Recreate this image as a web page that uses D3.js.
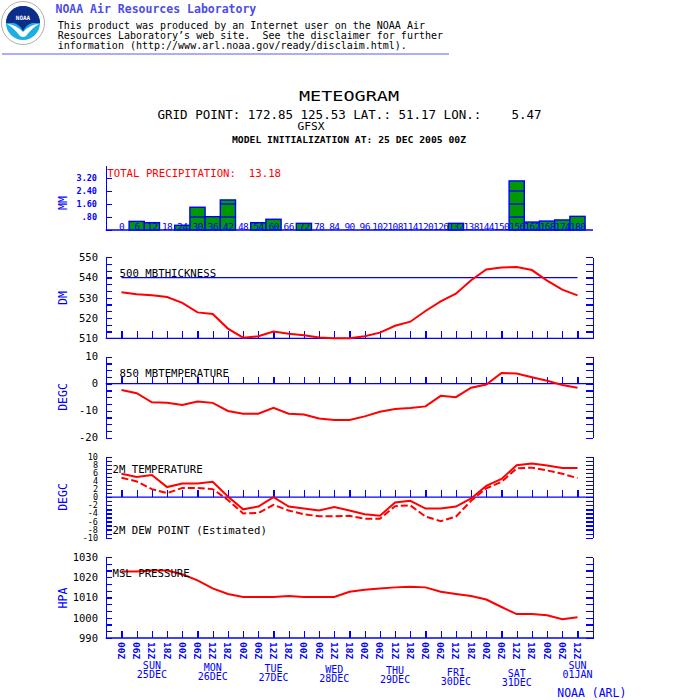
<!DOCTYPE html>
<html>
<head>
<meta charset="utf-8">
<script src="https://cdn.jsdelivr.net/npm/d3@7/dist/d3.min.js"></script>
<style>
  body { margin: 0; background: #fff; }
  svg { display: block; }
  text { font-family: "DejaVu Sans Mono", monospace; }
</style>
</head>
<body>
<svg id="chart" width="700" height="700"></svg>
<script>
// ---------- data ----------
var hours = [0, 6, 12, 18, 24, 30, 36, 42, 48, 54, 60, 66, 72, 78, 84, 90,
             96, 102, 108, 114, 120, 126, 132, 138, 144, 150, 156, 162, 168, 174, 180];
var hourLabels = ["00Z","06Z","12Z","18Z","00Z","06Z","12Z","18Z","00Z","06Z","12Z","18Z",
                  "00Z","06Z","12Z","18Z","00Z","06Z","12Z","18Z","00Z","06Z","12Z","18Z",
                  "00Z","06Z","12Z","18Z","00Z","06Z","12Z"];
var dayNames = ["SUN", "MON", "TUE", "WED", "THU", "FRI", "SAT", "SUN"];
var dayDates = ["25DEC", "26DEC", "27DEC", "28DEC", "29DEC", "30DEC", "31DEC", "01JAN"];
var dayHours = [12, 36, 60, 84, 108, 132, 156, 180];

// 6-hourly precipitation (mm)
var precip = [0, 0.53, 0.45, 0, 0.29, 1.40, 0.82, 1.85, 0, 0.45, 0.66, 0, 0.41, 0, 0, 0,
              0, 0, 0, 0, 0, 0, 0.41, 0, 0, 0, 3.02, 0.49, 0.55, 0.62, 0.84];
var precipTicks = [0.8, 1.6, 2.4, 3.2];
var precipTickLabels = [".80", "1.60", "2.40", "3.20"];

// 500 mb thickness (dm)
var thickness = [532.7, 531.8, 531.2, 530.4, 527.5, 522.8, 522.0, 514.8, 510.3, 511.0, 513.3,
                 512.3, 511.5, 510.4, 510.0, 510.0, 511.0, 512.8, 516.2, 518.2, 523.5, 528.2,
                 532.0, 538.7, 544.0, 545.0, 545.2, 543.7, 538.5, 534.0, 531.2];
var thicknessTicks = [550, 540, 530, 520, 510];

// 850 mb temperature (C)
var t850 = [-2.3, -3.5, -6.9, -7.1, -7.9, -6.6, -7.1, -10.1, -11.1, -11.1, -8.9, -11.1, -11.4,
            -12.9, -13.4, -13.4, -12.1, -10.4, -9.4, -9.0, -8.4, -4.5, -5.0, -1.5, -0.3,
            4.0, 3.8, 2.4, 1.1, -0.5, -1.5];
var t850Ticks = [10, 0, -10, -20];

// 2 m temperature and dew point (C)
var t2m = [5.8, 5.0, 5.5, 2.5, 3.4, 3.4, 3.8, 0.2, -3.0, -2.3, 0.0, -2.3, -2.8, -3.3, -2.4,
           -3.3, -4.2, -4.6, -1.3, -0.9, -2.8, -2.8, -2.3, -0.3, 2.8, 4.5, 7.9, 8.3, 7.8, 7.2, 7.2];
var td2m = [4.8, 3.9, 2.0, 1.0, 2.3, 2.3, 2.0, -0.7, -4.0, -3.9, -1.9, -3.3, -4.2, -4.7, -4.7,
            -4.6, -5.3, -5.3, -2.2, -2.0, -4.8, -5.9, -4.8, -0.9, 2.2, 3.8, 7.1, 7.3, 6.6, 5.8, 4.7];
var t2mTicks = [10, 8, 6, 4, 2, 0, -2, -4, -6, -8, -10];

// mean sea level pressure (hPa)
var mslp = [1022.8, 1022.8, 1023.3, 1023.3, 1021.5, 1018.5, 1014.5, 1011.7, 1010.3, 1010.3,
            1010.3, 1010.8, 1010.3, 1010.3, 1010.3, 1012.8, 1013.8, 1014.5, 1015.0, 1015.3,
            1015.0, 1012.8, 1011.7, 1010.7, 1009.0, 1005.3, 1001.8, 1001.8, 1001.2, 999.3, 1000.3];
var mslpTicks = [1030, 1020, 1010, 1000, 990];

// ---------- setup ----------
var BLUE = "#0000ff", RED = "#ff0000", GREEN = "#009900";
var L = 105.7, R = 593;
var svg = d3.select("#chart");
var x = d3.scaleLinear().domain([0, 180]).range([121.5, 577.5]);

// ---------- header ----------
var logo = svg.append("g").attr("transform", "translate(23,23)");
logo.append("circle").attr("r", 21.5).attr("fill", "#fff").attr("stroke", "#9a9a9a").attr("stroke-width", 0.8);
logo.append("circle").attr("r", 17).attr("fill", "#1eaee6");
logo.append("path")
    .attr("d", "M-17,0 A17,17 0 0 1 17,0 L9,0 Q3,2 0,8 Q-3,2 -9,0 Z")
    .attr("fill", "#0d2d8a");
logo.append("path")
    .attr("d", "M-16,1 Q-8,1 0,9 Q8,1 16,1 Q9,5 3,13 Q0,15 -3,13 Q-9,5 -16,1 Z")
    .attr("fill", "#fff");
logo.append("text").attr("y", -3).attr("text-anchor", "middle")
    .attr("font-size", 6).attr("font-weight", "bold").attr("fill", "#fff").text("NOAA");

svg.append("text").attr("x", 55.5).attr("y", 12.5)
    .attr("font-size", 11.5).attr("font-weight", "bold").attr("fill", "#4d4de8")
    .text("NOAA Air Resources Laboratory");

var disclaimer = [
  "This product was produced by an Internet user on the NOAA Air",
  "Resources Laboratory\u2019s web site.  See the disclaimer for further",
  "information (http://www.arl.noaa.gov/ready/disclaim.html)."
];
svg.selectAll(".disc").data(disclaimer).enter().append("text")
    .attr("class", "disc")
    .attr("x", 57.7).attr("y", function(d, i) { return 29.3 + i * 10; })
    .attr("font-size", 10).attr("fill", "#000")
    .style("white-space", "pre")
    .text(function(d) { return d; });

svg.append("line").attr("x1", 2).attr("x2", 449).attr("y1", 54).attr("y2", 54)
    .attr("stroke", "#5a5aff").attr("stroke-width", 1);

svg.append("text").attr("x", 349).attr("y", 101).attr("text-anchor", "middle")
    .attr("font-size", 14).attr("textLength", 100).attr("lengthAdjust", "spacingAndGlyphs")
    .text("METEOGRAM");
svg.append("text").attr("x", 349.5).attr("y", 118.5).attr("text-anchor", "middle")
    .attr("font-size", 11.5).attr("textLength", 384).attr("lengthAdjust", "spacingAndGlyphs")
    .style("white-space", "pre")
    .text("GRID POINT: 172.85 125.53 LAT.: 51.17 LON.:    5.47");
svg.append("text").attr("x", 311).attr("y", 129.5).attr("text-anchor", "middle")
    .attr("font-size", 10).attr("textLength", 27).attr("lengthAdjust", "spacingAndGlyphs")
    .text("GFSX");
svg.append("text").attr("x", 349).attr("y", 142.5).attr("text-anchor", "middle")
    .attr("font-size", 9.5).attr("font-weight", "bold")
    .attr("textLength", 234).attr("lengthAdjust", "spacingAndGlyphs")
    .text("MODEL INITIALIZATION AT: 25 DEC 2005 00Z");

// ---------- helpers ----------
function unitLabel(txt, cy) {
  svg.append("text")
      .attr("transform", "translate(67," + cy + ") rotate(-90)")
      .attr("text-anchor", "middle")
      .attr("font-size", 11.5).attr("fill", BLUE)
      .text(txt);
}

function sideTicks(y, n) {
  var d = y.domain(), vals = d3.range(n + 1).map(function(i) { return d[0] + i * (d[1] - d[0]) / n; });
  svg.append("g").attr("class", "ax").attr("transform", "translate(" + L + ",0)")
      .call(d3.axisRight(y).tickValues(vals).tickSize(6.7).tickSizeOuter(0).tickFormat(""));
  svg.append("g").attr("class", "ax").attr("transform", "translate(" + R + ",0)")
      .call(d3.axisLeft(y).tickValues(vals).tickSize(6.7).tickSizeOuter(0).tickFormat(""));
}

function valueLabels(y, vals, size) {
  svg.append("g").attr("class", "lab")
      .selectAll("text").data(vals).enter().append("text")
      .attr("x", 98).attr("y", function(d) { return y(d); })
      .attr("dy", "0.36em").attr("text-anchor", "end")
      .attr("font-size", size).attr("fill", "#000")
      .text(function(d) { return d; });
}

function baseLine(yPos) {
  svg.append("line").attr("x1", L).attr("x2", R).attr("y1", yPos).attr("y2", yPos)
      .attr("stroke", BLUE).attr("stroke-width", 1.3);
  var g = svg.append("g").attr("class", "ax").attr("transform", "translate(0," + yPos + ")")
      .call(d3.axisTop(x).tickValues(hours).tickSize(7).tickFormat(""));
  g.select(".domain").remove();
}

function title(txt, tx, ty) {
  svg.append("text").attr("x", tx).attr("y", ty)
      .attr("font-size", 10.7).attr("fill", "#000")
      .style("white-space", "pre").text(txt);
}

function series(y, vals, dash) {
  var line = d3.line().x(function(d, i) { return x(hours[i]); }).y(function(d) { return y(d); });
  svg.append("path").datum(vals).attr("d", line)
      .attr("fill", "none").attr("stroke", RED).attr("stroke-width", 2)
      .attr("stroke-dasharray", dash || null);
}

// ---------- panel 1: precipitation ----------
var yP = d3.scaleLinear().domain([0, 4]).range([230, 165]);
svg.append("g").attr("class", "ax").attr("transform", "translate(" + L + ",0)")
    .call(d3.axisRight(yP).tickValues([0].concat(precipTicks)).tickSize(6.7).tickSizeOuter(0).tickFormat(""));
svg.append("line").attr("x1", L).attr("x2", R).attr("y1", yP(0)).attr("y2", yP(0))
    .attr("stroke", BLUE).attr("stroke-width", 1.3);
svg.append("g").selectAll("text").data(precipTicks).enter().append("text")
    .attr("x", 97).attr("y", function(d) { return yP(d); }).attr("dy", "0.36em")
    .attr("text-anchor", "end").attr("font-size", 8.5).attr("font-weight", "bold")
    .attr("fill", BLUE).text(function(d, i) { return precipTickLabels[i]; });
unitLabel("MM", 203);

var barW = x(6) - x(0);
var bars = svg.append("g");
hours.forEach(function(h, i) {
  var v = precip[i];
  if (v <= 0) return;
  bars.append("rect")
      .attr("x", x(h) - barW / 2).attr("width", barW)
      .attr("y", yP(v)).attr("height", yP(0) - yP(v))
      .attr("fill", GREEN).attr("stroke", BLUE).attr("stroke-width", 1.4);
  precipTicks.filter(function(t) { return t < v - 0.05; }).forEach(function(t) {
    bars.append("line").attr("x1", x(h) - barW / 2).attr("x2", x(h) + barW / 2)
        .attr("y1", yP(t)).attr("y2", yP(t)).attr("stroke", BLUE).attr("stroke-width", 1.4);
  });
});
svg.append("g").selectAll("text").data(hours).enter().append("text")
    .attr("x", function(d) { return x(d); }).attr("y", 229.5)
    .attr("text-anchor", "middle").attr("font-size", 9.5).attr("fill", BLUE)
    .attr("letter-spacing", -0.6)
    .text(function(d) { return d; });
svg.append("text").attr("x", 107.3).attr("y", 177.3)
    .attr("font-size", 10.7).attr("fill", RED).style("white-space", "pre")
    .text("TOTAL PRECIPITATION:  13.18");

// ---------- panel 2: 500 mb thickness ----------
var yT = d3.scaleLinear().domain([510, 550]).range([338.3, 257.3]);
sideTicks(yT, 12);
valueLabels(yT, thicknessTicks, 10.5);
baseLine(yT(510));
svg.append("line").attr("x1", x(0)).attr("x2", x(180)).attr("y1", yT(540)).attr("y2", yT(540))
    .attr("stroke", BLUE).attr("stroke-width", 1.3);
series(yT, thickness);
title("500 MBTHICKNESS", 119.6, 276.8);
unitLabel("DM", 298);

// ---------- panel 3: 850 mb temperature ----------
var y8 = d3.scaleLinear().domain([-20, 10]).range([437.7, 356.7]);
sideTicks(y8, 12);
valueLabels(y8, t850Ticks, 10.5);
baseLine(y8(0));
series(y8, t850);
title("850 MBTEMPERATURE", 119.6, 377);
unitLabel("DEGC", 397);

// ---------- panel 4: 2 m temperature / dew point ----------
var y2 = d3.scaleLinear().domain([-10, 10]).range([537.7, 456.7]);
sideTicks(y2, 20);
valueLabels(y2, t2mTicks, 8.5);
baseLine(y2(0));
series(y2, td2m, "7,3");
series(y2, t2m);
title("2M TEMPERATURE", 112.5, 473.3);
title("2M DEW POINT (Estimated)", 112.5, 534);
unitLabel("DEGC", 497);

// ---------- panel 5: MSL pressure ----------
var yM = d3.scaleLinear().domain([990, 1030]).range([638, 557]);
sideTicks(yM, 12);
valueLabels(yM, mslpTicks, 10.5);
baseLine(yM(990));
series(yM, mslp);
title("MSL PRESSURE", 112.5, 576.7);
unitLabel("HPA", 598);

// ---------- time axis labels ----------
svg.append("g").selectAll("text").data(hours).enter().append("text")
    .attr("transform", function(d) { return "translate(" + x(d) + ",642) rotate(90)"; })
    .attr("dy", "0.36em")
    .attr("font-size", 9.5).attr("font-weight", "bold").attr("fill", BLUE)
    .text(function(d, i) { return hourLabels[i]; });

var days = svg.append("g").selectAll("g").data(dayHours).enter().append("g")
    .attr("transform", function(d, i) { return "translate(" + x(d) + "," + (669.3 + (i % 7) * 1.25) + ")"; });
days.append("text").attr("text-anchor", "middle").attr("font-size", 10).attr("fill", BLUE)
    .text(function(d, i) { return dayNames[i]; });
days.append("text").attr("y", 9).attr("text-anchor", "middle").attr("font-size", 10).attr("fill", BLUE)
    .text(function(d, i) { return dayDates[i]; });

svg.append("text").attr("x", 557.3).attr("y", 696.7)
    .attr("font-size", 11.5).attr("fill", BLUE)
    .attr("textLength", 69).attr("lengthAdjust", "spacingAndGlyphs")
    .style("white-space", "pre").text("NOAA (ARL)");

// axis styling
svg.selectAll(".ax path, .ax line").attr("stroke", BLUE).attr("stroke-width", 1.3);
svg.selectAll(".ax").attr("shape-rendering", "crispEdges");
</script>
</body>
</html>
